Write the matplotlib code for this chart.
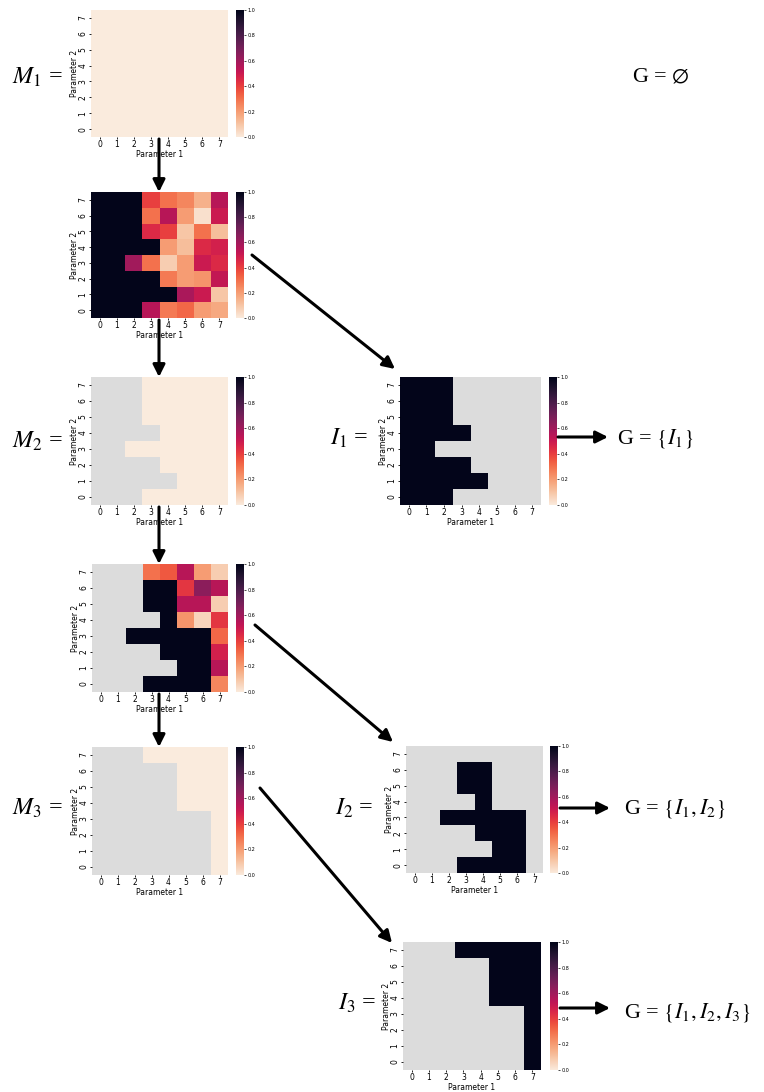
import numpy as np
import matplotlib
matplotlib.use("Agg")
import matplotlib.pyplot as plt
from matplotlib.patches import FancyArrowPatch
import seaborn as sns

# grid values, rows listed top to bottom (Parameter 2 = 7 ... 0), columns Parameter 1 = 0 ... 7
param1 = [0, 1, 2, 3, 4, 5, 6, 7]
param2 = [7, 6, 5, 4, 3, 2, 1, 0]

m1_vals = np.zeros((8, 8))

first_scan = np.array([
    [1, 1, 1, 0.40, 0.30, 0.25, 0.15, 0.55],
    [1, 1, 1, 0.30, 0.55, 0.20, 0.03, 0.50],
    [1, 1, 1, 0.45, 0.40, 0.10, 0.30, 0.12],
    [1, 1, 1, 1, 0.20, 0.12, 0.45, 0.48],
    [1, 1, 0.60, 0.30, 0.08, 0.20, 0.50, 0.45],
    [1, 1, 1, 1, 0.28, 0.20, 0.22, 0.52],
    [1, 1, 1, 1, 1, 0.58, 0.50, 0.10],
    [1, 1, 1, 0.55, 0.28, 0.32, 0.20, 0.17],
])

second_scan = np.array([
    [np.nan, np.nan, np.nan, 0.30, 0.35, 0.55, 0.20, 0.08],
    [np.nan, np.nan, np.nan, 1, 1, 0.42, 0.65, 0.55],
    [np.nan, np.nan, np.nan, 1, 1, 0.55, 0.55, 0.08],
    [np.nan, np.nan, np.nan, np.nan, 1, 0.22, 0.06, 0.42],
    [np.nan, np.nan, 1, 1, 1, 1, 1, 0.32],
    [np.nan, np.nan, np.nan, np.nan, 1, 1, 1, 0.48],
    [np.nan, np.nan, np.nan, np.nan, np.nan, 1, 1, 0.55],
    [np.nan, np.nan, np.nan, 1, 1, 1, 1, 0.25],
])

# islands = cells that reach 1.0
island1 = first_scan == 1
island2 = second_scan == 1
m2_mask = island1
m3_mask = island1 | island2
island3 = ~m3_mask

W, H = 764, 1092
plt.rcParams['mathtext.fontset'] = 'stix'
fig = plt.figure(figsize=(W / 100, H / 100), dpi=100)


def rect(x0, y0, x1, y1):
    return [x0 / W, 1 - y1 / H, (x1 - x0) / W, (y1 - y0) / H]


def pt(x, y):
    return (x / W, 1 - y / H)


def heat(box, cbox, data, mask):
    ax = fig.add_axes(rect(*box))
    cax = fig.add_axes(rect(*cbox))
    sns.heatmap(data, mask=mask, cmap="rocket_r", vmin=0, vmax=1, ax=ax, cbar_ax=cax,
                xticklabels=param1, yticklabels=param2)
    ax.set_facecolor("#dcdcdc")
    ax.set_xlabel("Parameter 1", fontsize=5.5, labelpad=0.5)
    ax.set_ylabel("Parameter 2", fontsize=5.5, labelpad=0)
    ax.tick_params(labelsize=5.5, length=1.5, width=0.6, pad=1)
    ax.set_yticklabels(param2, rotation=90, va="center")
    cax.set_yticks([0, 0.2, 0.4, 0.6, 0.8, 1.0])
    cax.set_yticklabels(["0.0", "0.2", "0.4", "0.6", "0.8", "1.0"])
    cax.tick_params(labelsize=3.5, length=1.5, width=0.5, pad=1)
    return ax


heat((91, 10, 228, 137), (236, 10, 244, 137), m1_vals, None)
heat((91, 192, 228, 318), (236, 192, 244, 318), first_scan, None)
heat((91, 377, 228, 505), (236, 377, 244, 505), np.zeros((8, 8)), m2_mask)
heat((92, 564, 228, 692), (236, 564, 244, 692), second_scan, np.isnan(second_scan))
heat((92, 747, 228, 875), (236, 747, 244, 875), np.zeros((8, 8)), m3_mask)
heat((400, 377, 541, 505), (549, 377, 557, 505), np.ones((8, 8)), ~island1)
heat((406, 746, 543, 873), (550, 746, 558, 873), np.ones((8, 8)), ~island2)
heat((403, 942, 541, 1070), (550, 942, 558, 1070), np.ones((8, 8)), ~island3)

arrows = [
    ((159, 139), (159, 192)),
    ((159, 320), (159, 377)),
    ((159, 507), (159, 564)),
    ((159, 694), (159, 747)),
    ((252, 255), (395, 369)),
    ((255, 625), (393, 742)),
    ((260, 788), (392, 943)),
    ((558, 437), (608, 437)),
    ((560, 808), (610, 808)),
    ((560, 1008), (610, 1008)),
]
for a, b in arrows:
    fig.add_artist(FancyArrowPatch(pt(*a), pt(*b), transform=fig.transFigure,
                                   arrowstyle="-|>", mutation_scale=18, lw=2.2,
                                   color="black", shrinkA=0, shrinkB=0))

labels = [
    (12, 77, r"$M_1$ ="),
    (12, 441, r"$M_2$ ="),
    (12, 808, r"$M_3$ ="),
    (330, 438, r"$I_1$ ="),
    (335, 808, r"$I_2$ ="),
    (338, 1003, r"$I_3$ ="),
]
for x, y, s in labels:
    fig.text(*pt(x, y), s, fontsize=17.5, ha="left", va="center", family="Liberation Serif")

sets = [
    (632, 77, r"G = $\emptyset$"),
    (617, 438, r"G = $\{I_1\}$"),
    (624, 808, r"G = $\{I_1, I_2\}$"),
    (624, 1013, r"G = $\{I_1, I_2, I_3\}$"),
]
for x, y, s in sets:
    fig.text(*pt(x, y), s, fontsize=16, ha="left", va="center", family="Liberation Serif")

fig.savefig("out.png", dpi=100)
